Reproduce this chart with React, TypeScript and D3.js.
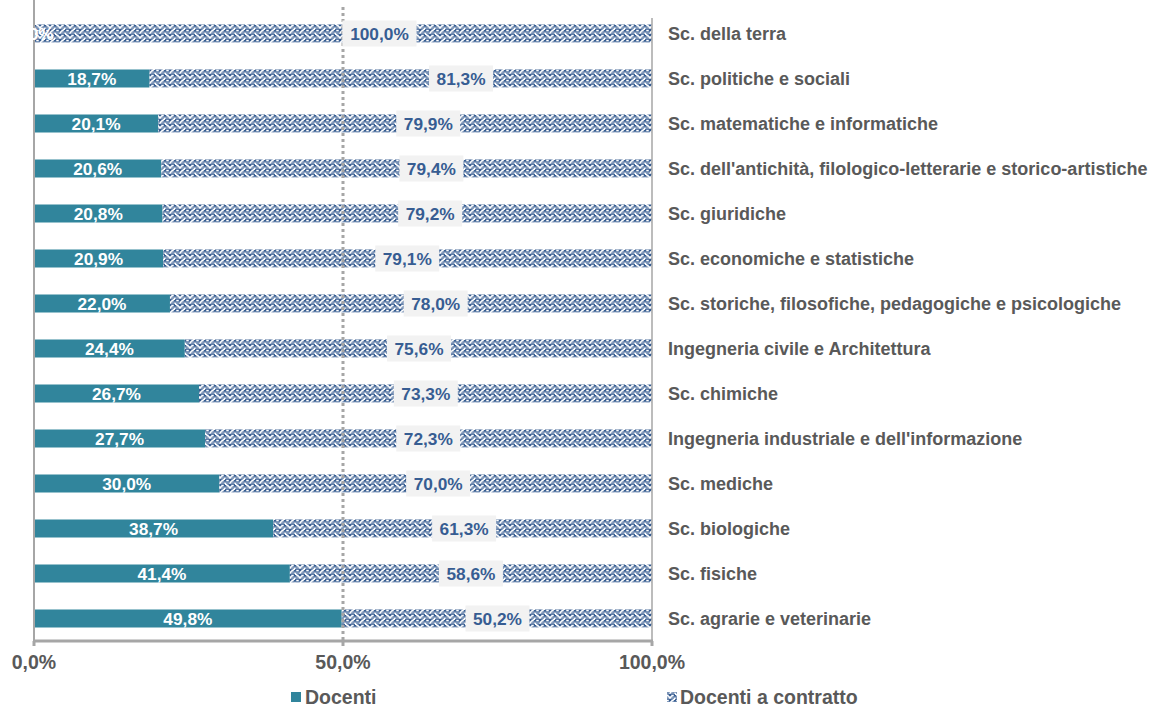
import * as d3 from 'd3';

const categories = [
  'Sc. della terra',
  'Sc. politiche e sociali',
  'Sc. matematiche e informatiche',
  "Sc. dell'antichità, filologico-letterarie e storico-artistiche",
  'Sc. giuridiche',
  'Sc. economiche e statistiche',
  'Sc. storiche, filosofiche, pedagogiche e psicologiche',
  'Ingegneria civile e Architettura',
  'Sc. chimiche',
  "Ingegneria industriale e dell'informazione",
  'Sc. mediche',
  'Sc. biologiche',
  'Sc. fisiche',
  'Sc. agrarie e veterinarie',
];
const docenti = [0.0, 18.7, 20.1, 20.6, 20.8, 20.9, 22.0, 24.4, 26.7, 27.7, 30.0, 38.7, 41.4, 49.8];
const contratto = [100.0, 81.3, 79.9, 79.4, 79.2, 79.1, 78.0, 75.6, 73.3, 72.3, 70.0, 61.3, 58.6, 50.2];
// where the (hand-moved) labels of the second series sit, in axis units
const contrattoLabelAt = [55.9, 69.1, 63.8, 64.3, 64.1, 60.4, 65.0, 62.3, 63.4, 63.8, 65.4, 69.6, 70.7, 75.0];
const xTicks = [0, 50, 100];
const seriesNames = ['Docenti', 'Docenti a contratto'];

const W = 1151;
const H = 707;
const plot = { left: 34, right: 652, top: 11, bottom: 641 };

const TEAL = '#31859C';
const BLUE = '#375D92';
const GREY = '#595959';
const AXIS = '#A6A6A6';
const FONT = '"Liberation Sans", Arial, sans-serif';

// 8x8 weave hatch, thickened by one pixel
const weaveBase = [0x11, 0x2a, 0x44, 0xa2, 0x11, 0x28, 0x44, 0x8a];
const weave = weaveBase.map((r) => (r | ((r >> 1) | ((r & 1) << 7))) & 0xff);

const fmt = (v: number) => d3.format('.1f')(v).replace('.', ',') + '%';

export default function App() {
  const x = d3.scaleLinear().domain([0, 100]).range([plot.left, plot.right]);
  const y = d3
    .scaleBand<string>()
    .domain(categories)
    .range([plot.top, plot.bottom])
    .paddingInner(0.6)
    .paddingOuter(0.3);
  const bh = y.bandwidth();

  const cells: JSX.Element[] = [];
  weave.forEach((row, r) => {
    for (let c = 0; c < 8; c++) {
      if (row & (0x80 >> c)) cells.push(<rect key={r + '-' + c} x={c} y={r} width={1} height={1} fill={BLUE} />);
    }
  });

  return (
    <svg width={W} height={H} style={{ position: 'absolute', left: 0, top: 0, background: '#fff' }} fontFamily={FONT}>
      <defs>
        <pattern id="weave" patternUnits="userSpaceOnUse" width={8} height={8} patternTransform="scale(1.25)">
          <rect width={8} height={8} fill="#fff" />
          {cells}
        </pattern>
      </defs>

      {/* bars */}
      {categories.map((c, i) => {
        const yy = y(c)!;
        return (
          <g key={c}>
            <rect x={x(0)} y={yy} width={x(docenti[i]) - x(0)} height={bh} fill={TEAL} />
            <rect x={x(docenti[i])} y={yy} width={x(docenti[i] + contratto[i]) - x(docenti[i])} height={bh} fill="url(#weave)" />
          </g>
        );
      })}

      {/* 50% dotted line */}
      <line x1={x(50)} x2={x(50)} y1={plot.top - 4} y2={plot.bottom} stroke={AXIS} strokeWidth={3} strokeDasharray="3,3" />

      {/* axes */}
      <line x1={plot.left} x2={plot.left} y1={0} y2={plot.bottom} stroke={AXIS} strokeWidth={2} />
      <line x1={plot.right} x2={plot.right} y1={plot.top + 7} y2={plot.bottom} stroke={AXIS} strokeWidth={1.5} />
      <line x1={plot.left - 1} x2={plot.right + 1} y1={plot.bottom} y2={plot.bottom} stroke={AXIS} strokeWidth={3} />
      {xTicks.map((t) => (
        <g key={t}>
          <line x1={x(t)} x2={x(t)} y1={plot.bottom} y2={plot.bottom + 5} stroke={AXIS} strokeWidth={3} />
          <text x={x(t)} y={plot.bottom + 21} textAnchor="middle" dominantBaseline="central" fontSize={19.5} fontWeight="bold" fill={GREY}>
            {fmt(t)}
          </text>
        </g>
      ))}

      {/* data labels */}
      {categories.map((c, i) => {
        const cy = y(c)! + bh / 2;
        const lx = x(contrattoLabelAt[i]);
        const txt = fmt(contratto[i]);
        const bw = txt.length * 10.2 + 13;
        return (
          <g key={'l' + c}>
            <text x={(x(0) + x(docenti[i])) / 2} y={cy} dy="0.36em" textAnchor="middle" fontSize={17.3} fontWeight="bold" fill="#fff">
              {fmt(docenti[i])}
            </text>
            <rect x={lx - bw / 2} y={cy - 13} width={bw} height={26} fill="#F2F2F2" />
            <text x={lx} y={cy} dy="0.36em" textAnchor="middle" fontSize={17.3} fontWeight="bold" fill={BLUE}>
              {txt}
            </text>
          </g>
        );
      })}

      {/* category labels */}
      {categories.map((c) => (
        <text key={'c' + c} x={668} y={y(c)! + bh / 2} dy="0.36em" fontSize={18} fontWeight="bold" fill={GREY}>
          {c}
        </text>
      ))}

      {/* legend */}
      <rect x={291} y={692} width={10} height={10} fill={TEAL} />
      <text x={305} y={697} dy="0.36em" fontSize={19.5} fontWeight="bold" fill={GREY}>
        {seriesNames[0]}
      </text>
      <rect x={667} y={692} width={10} height={10} fill="url(#weave)" />
      <text x={680} y={697} dy="0.36em" fontSize={19.5} fontWeight="bold" fill={GREY}>
        {seriesNames[1]}
      </text>
    </svg>
  );
}
